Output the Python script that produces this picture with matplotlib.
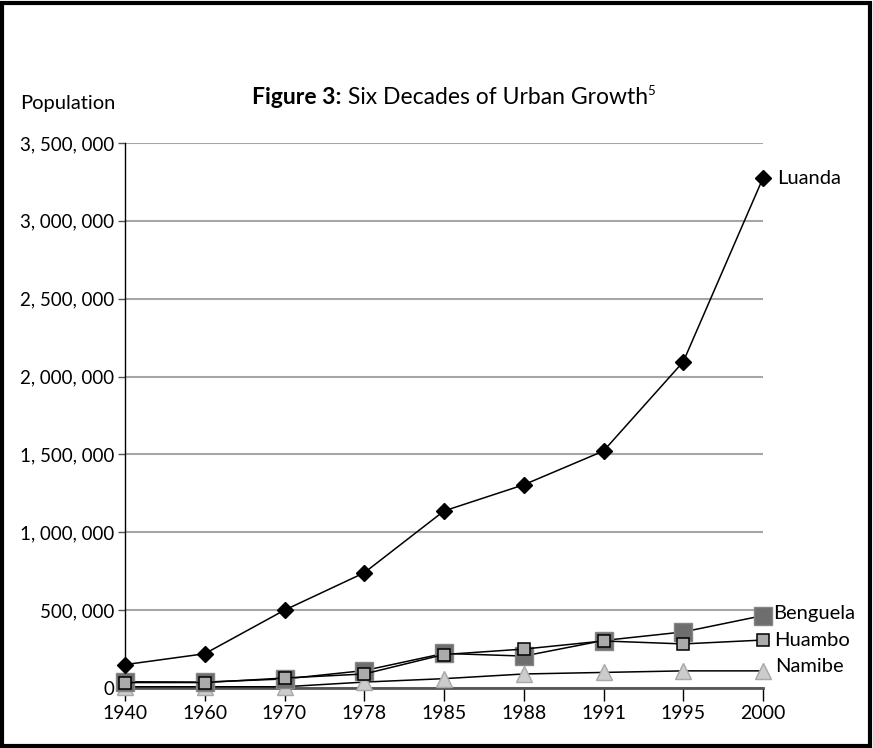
import matplotlib.pyplot as plt
from matplotlib.patches import Rectangle
from matplotlib.ticker import FuncFormatter

years = ["1940", "1960", "1970", "1978", "1985", "1988", "1991", "1995", "2000"]
luanda = [150000, 220000, 500000, 740000, 1137000, 1305000, 1522000, 2095000, 3275000]
benguela = [40000, 38000, 58000, 112000, 222000, 205000, 305000, 360000, 465000]
huambo = [35000, 35000, 64000, 90000, 215000, 250000, 302000, 283000, 308000]
namibe = [8000, 8000, 8000, 38000, 60000, 90000, 100000, 110000, 110000]
yticks = [0, 500000, 1000000, 1500000, 2000000, 2500000, 3000000, 3500000]

plt.rcParams['font.family'] = ['Lato', 'DejaVu Sans']

fig = plt.figure(figsize=(8.73, 7.48), dpi=100)
ax = fig.add_axes([125 / 873, 1 - 688 / 748, (763 - 125) / 873, (688 - 143) / 748])

x = list(range(len(years)))

ax.plot(x, namibe, color='black', lw=1.1, marker='^', ms=11,
        mfc='#cccccc', mec='#a8a8a8', mew=1, zorder=3, clip_on=False)
ax.plot(x, benguela, color='black', lw=1.1, marker='s', ms=12.5,
        mfc='#6e6e6e', mec='#858585', mew=1, zorder=4, clip_on=False)
ax.plot(x, huambo, color='black', lw=1.1, marker='s', ms=8.5,
        mfc='#ababab', mec='black', mew=1.1, zorder=5, clip_on=False)
ax.plot(x, luanda, color='black', lw=1.1, marker='D', ms=8,
        mfc='black', mec='black', zorder=6, clip_on=False)

# direct labels at the end of each line (offsets in points)
labels = [("Luanda", luanda, 10, 0), ("Benguela", benguela, 7.5, 1.5),
          ("Huambo", huambo, 8, 0), ("Namibe", namibe, 8.5, 3)]
for name, vals, dx, dy in labels:
    ax.annotate(name, xy=(x[-1], vals[-1]), xytext=(dx, dy),
                textcoords='offset points', va='center', ha='left',
                fontsize=14.5, annotation_clip=False)

ax.set_xlim(0, 8)
ax.set_ylim(0, 3500000)
ax.set_xticks(x)
ax.set_xticklabels(years, fontsize=14)
ax.set_yticks(yticks)
ax.yaxis.set_major_formatter(FuncFormatter(lambda v, p: f"{int(v):,}".replace(",", ", ")))
ax.tick_params(axis='y', labelsize=13.5, length=5, width=1, color='#555555', pad=3)
ax.tick_params(axis='x', length=9, width=1, color='black', pad=3)

ax.grid(axis='y', color='#a6a6a6', lw=1.5)
ax.set_axisbelow(True)
for s in ['top', 'right']:
    ax.spines[s].set_visible(False)
ax.spines['left'].set_linewidth(1)
ax.spines['bottom'].set_linewidth(2)
ax.spines['bottom'].set_color('#555555')
ax.spines['bottom'].set_zorder(2)

fig.text(20 / 873, 1 - 104 / 748, "Population", fontsize=14.5, va='center', ha='left')

# title: bold part + regular part + superscript
t1 = fig.text(252 / 873, 1 - 97 / 748, "Figure 3:", fontsize=16.5, fontweight='bold',
              va='center', ha='left')
t2 = ax.annotate(" Six Decades of Urban Growth", xy=(1, 0.5), xycoords=t1,
                 va='center', ha='left', fontsize=16.5)
ax.annotate("5", xy=(1, 0.8), xycoords=t2, va='center', ha='left', fontsize=9.5)

fig.patches.append(Rectangle((0.002, 0.003), 0.995, 0.993, transform=fig.transFigure,
                             fill=False, ec='black', lw=3))

fig.savefig("out.png", dpi=100)
